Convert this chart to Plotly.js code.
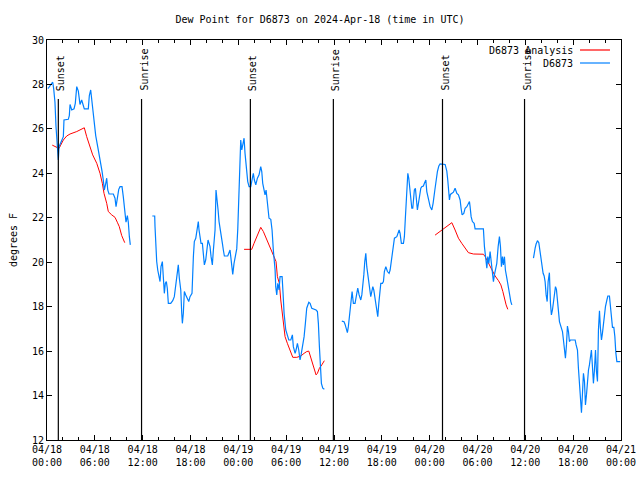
<!DOCTYPE html>
<html><head><meta charset="utf-8">
<script src="https://cdn.plot.ly/plotly-3.0.1.min.js"></script>
<style>html,body{margin:0;padding:0;background:#fff}#chart{width:640px;height:480px}</style>
</head><body><div id="chart"></div>
<script>
const startTime = Date.UTC(2024, 3, 18, 0, 0, 0);
const endTime = Date.UTC(2024, 3, 21, 0, 0, 0);

// hours since 2024-04-18 00:00 UTC (null = data gap)
const blueHours = [
 0.09,0.16,0.59,0.72,0.84,1.00,1.13,1.29,1.42,1.51,1.84,2.05,2.13,2.67,2.80,2.89,3.10,3.39,3.55,3.73,3.93,4.14,4.35,4.55,4.68,5.18,5.31,5.48,5.61,5.81,6.11,6.36,6.56,6.78,6.90,7.06,7.19,7.37,7.49,7.62,7.78,8.32,8.53,8.66,8.82,9.00,9.16,9.41,9.57,9.79,9.91,10.08,10.20,10.33,10.45,
 null,
 13.21,13.51,13.55,13.64,13.76,13.89,14.02,14.09,14.18,14.30,14.47,14.59,14.72,14.84,14.97,15.09,15.22,15.52,15.77,15.97,16.15,16.27,16.47,16.60,16.78,16.90,16.98,17.10,17.23,17.40,17.60,17.78,17.94,18.19,18.36,18.48,18.66,18.86,18.98,19.07,19.20,19.32,19.49,19.61,19.74,19.91,20.04,20.20,20.33,20.45,20.58,20.74,20.87,21.08,21.20,21.33,21.46,21.58,21.71,21.83,22.00,22.12,22.25,22.67,22.84,22.96,23.05,23.17,23.30,23.46,23.68,23.80,23.93,24.05,24.18,24.30,24.43,24.55,24.72,24.84,25.01,25.18,25.35,25.56,25.76,25.88,26.01,26.19,26.39,26.60,26.81,26.94,27.06,27.23,27.35,27.48,27.57,27.69,27.85,28.07,28.23,28.39,28.52,28.61,28.69,28.82,28.95,29.11,29.23,29.49,29.61,29.74,29.95,30.15,30.33,30.58,30.78,30.90,31.12,31.24,31.41,31.58,31.74,31.87,32.08,32.25,32.41,32.58,32.84,33.00,33.21,33.50,33.75,33.92,34.04,34.17,34.29,34.42,34.59,34.79,
 null,
 36.98,37.26,37.39,37.52,37.68,37.80,37.93,38.02,38.14,38.27,38.43,38.64,38.86,38.98,39.15,39.36,39.49,39.61,39.74,39.86,39.99,40.11,40.24,40.36,40.49,40.61,40.74,40.87,40.99,41.12,41.24,41.37,41.49,41.62,41.74,41.87,42.07,42.20,42.32,42.50,42.70,42.91,43.04,43.20,43.33,43.45,43.58,43.88,44.04,44.17,44.29,44.45,44.71,44.83,44.96,45.13,45.26,45.38,45.51,45.63,45.76,45.88,45.96,46.08,46.21,46.34,46.46,46.59,46.71,46.89,47.01,47.21,47.34,47.52,47.64,47.84,48.06,48.27,48.43,48.65,48.81,48.97,49.15,49.31,49.94,50.15,50.27,50.40,50.48,50.60,50.78,50.98,51.19,51.41,51.61,51.82,51.94,52.07,52.28,52.45,52.66,52.86,52.99,53.07,53.20,53.36,53.58,53.70,54.74,54.87,55.04,55.17,55.29,55.42,55.58,55.71,55.87,56.00,56.12,56.25,56.42,56.59,56.75,56.88,57.00,57.13,57.25,57.38,57.50,57.68,57.84,58.00,58.18,58.31,
 null,
 61.02,61.10,61.23,61.35,61.52,61.69,61.86,61.98,62.11,62.23,62.36,62.48,62.61,62.74,62.86,63.02,63.15,63.27,63.40,63.53,63.65,63.78,63.90,64.03,64.15,64.28,64.40,64.53,64.66,64.78,64.91,65.03,65.16,65.28,65.41,65.53,65.66,66.25,66.37,66.54,66.66,66.79,66.91,67.04,67.17,67.29,67.42,67.54,67.67,67.79,67.92,68.04,68.17,68.29,68.42,68.54,68.67,68.80,68.92,69.05,69.17,69.30,69.42,69.55,69.67,69.80,69.92,70.05,70.23,70.35,70.55,70.68,70.80,70.93,71.10,71.23,71.35,71.48,71.90
];
const blueValues = [
 27.83,27.83,28.05,28.10,27.80,27.20,26.10,24.90,24.60,25.20,25.50,25.65,26.40,26.43,26.60,27.10,26.85,26.90,27.15,27.90,27.70,27.10,27.30,27.10,26.90,26.90,27.50,27.75,27.30,26.60,25.70,25.20,24.80,24.50,24.10,23.70,23.25,23.55,23.78,23.25,23.07,23.07,22.88,22.50,22.80,23.28,23.40,23.40,22.95,22.05,21.80,22.10,21.80,21.15,20.78,
 null,
 22.08,22.08,21.60,20.63,20.03,19.65,19.43,19.28,19.13,19.80,20.03,19.35,18.60,19.05,19.13,18.83,18.15,18.15,18.27,18.45,18.90,19.35,19.88,19.28,18.75,17.70,17.25,17.70,18.68,18.53,18.38,18.23,18.45,18.60,20.25,20.93,21.08,21.60,21.83,21.45,21.08,20.85,20.85,20.18,19.88,20.10,20.48,21.00,20.85,20.70,20.25,19.88,20.55,21.45,23.25,22.88,22.35,21.83,21.45,21.08,20.85,20.55,20.28,20.28,20.48,20.55,20.25,19.90,19.45,19.95,20.30,20.60,21.50,22.80,24.60,25.50,25.05,25.35,25.58,24.90,24.08,23.63,23.40,23.40,23.78,24.00,23.70,23.48,23.78,23.93,24.30,24.08,23.55,23.18,23.03,23.25,22.95,22.28,21.98,21.93,21.45,20.55,20.10,19.65,18.90,18.53,19.05,18.75,19.35,19.35,18.60,17.70,16.95,16.73,16.50,16.50,16.73,16.20,15.90,16.05,16.35,16.05,15.60,15.83,16.20,16.65,17.25,17.93,18.20,18.15,17.93,17.90,17.85,17.78,17.25,16.20,15.15,14.55,14.33,14.28,
 null,
 17.35,17.32,17.20,17.03,16.83,17.10,17.55,18.08,18.53,18.68,18.15,18.15,18.60,18.83,18.53,18.30,18.53,18.90,19.43,20.03,20.40,19.80,19.43,19.05,18.83,18.45,18.68,18.90,18.75,18.38,18.23,17.93,17.55,18.15,18.68,19.05,19.05,19.13,19.58,19.80,19.58,19.50,19.65,20.10,20.55,20.93,21.08,21.15,21.38,21.45,21.30,20.85,20.85,21.15,22.05,23.10,24.00,23.78,23.40,22.80,22.43,22.43,22.95,23.25,23.33,22.80,22.35,22.65,22.95,23.33,23.40,23.43,23.55,23.70,23.18,22.88,22.50,22.35,22.65,23.25,23.70,24.08,24.33,24.42,24.40,24.10,23.70,23.10,22.80,23.05,23.10,23.15,23.33,23.10,23.03,22.80,22.43,22.13,22.20,22.43,22.50,22.65,22.73,22.50,22.05,21.83,21.75,21.50,21.50,20.70,20.10,19.73,20.25,19.95,20.48,20.10,19.65,19.13,19.43,19.65,19.95,20.70,21.15,20.70,19.80,20.25,19.88,20.25,19.65,19.28,18.90,18.45,18.23,18.08,
 null,
 20.18,20.40,20.63,20.82,20.97,20.88,20.48,20.03,19.73,19.50,19.38,19.13,18.53,18.23,19.13,19.53,18.15,17.63,17.85,18.23,18.68,18.90,18.78,18.30,17.70,17.33,17.18,17.03,16.88,16.50,16.05,15.68,16.28,17.13,16.88,16.43,16.50,16.50,16.28,16.05,15.23,14.40,13.65,13.23,14.10,15.00,14.63,13.58,14.03,14.78,15.15,15.38,15.75,16.05,15.30,14.55,15.15,16.05,15.08,14.63,16.95,17.82,17.03,16.50,16.80,17.25,17.55,18.00,18.30,18.48,18.48,18.00,17.48,17.07,17.07,16.65,15.93,15.53,15.53
];

const redHours = [
 0.66,1.22,1.51,1.72,2.05,2.47,2.89,3.73,4.35,4.68,4.98,5.40,5.73,6.24,6.65,6.94,7.15,7.49,7.69,8.12,8.53,8.82,9.07,9.37,9.75,
 null,
 24.72,25.68,25.97,26.31,26.81,27.14,27.57,27.98,28.39,28.73,28.90,29.15,29.32,29.49,29.65,29.86,30.15,30.49,30.83,31.33,31.83,32.25,32.58,32.84,33.09,33.34,33.50,33.75,33.92,34.17,34.47,34.79,
 null,
 48.68,49.31,50.15,50.78,51.19,51.61,52.03,52.45,52.86,53.49,54.11,54.74,54.96,55.37,55.80,56.21,56.63,56.93,57.18,57.34,57.59,57.80
];
const redValues = [
 25.27,25.17,25.12,25.27,25.50,25.68,25.77,25.88,25.98,26.05,25.65,25.20,24.83,24.45,24.00,23.55,23.10,22.65,22.28,22.13,22.02,21.80,21.60,21.20,20.88,
 null,
 20.58,20.58,20.85,21.15,21.57,21.38,21.00,20.70,20.33,20.03,19.35,19.05,18.30,17.70,17.25,16.65,16.35,16.05,15.72,15.72,15.78,15.90,15.98,16.00,15.68,15.38,15.15,14.93,15.00,15.23,15.38,15.57,
 null,
 21.22,21.40,21.60,21.78,21.45,21.08,20.85,20.63,20.43,20.37,20.36,20.36,20.25,19.95,19.65,19.38,19.17,18.98,18.68,18.38,18.08,17.88
];

const sunsetHours = [1.42, 25.51, 49.61];
const sunriseHours = [11.86, 35.92, 59.90];
const seriesNames = ['D6873 Analysis', 'D6873'];
const seriesColors = ['#ff0000', '#0080ff'];

const toTime = h => (h === null ? null : startTime + h * 3600000);
const FONT = 'DejaVu Sans Mono, monospace';

const traces = [
  {x: redHours.map(toTime), y: redValues, type: 'scatter', mode: 'lines',
   name: seriesNames[0], line: {color: seriesColors[0], width: 1}, connectgaps: false},
  {x: blueHours.map(toTime), y: blueValues, type: 'scatter', mode: 'lines',
   name: seriesNames[1], line: {color: seriesColors[1], width: 1.2}, connectgaps: false}
];

const shapes = [];
const annotations = [];
const events = [];
sunsetHours.forEach(h => events.push({h: h, label: 'Sunset'}));
sunriseHours.forEach(h => events.push({h: h, label: 'Sunrise'}));
events.forEach(ev => {
  shapes.push({type: 'line', xref: 'x', yref: 'paper', x0: toTime(ev.h), x1: toTime(ev.h),
    y0: 0, y1: 0.8525, line: {color: '#000', width: 1.2}});
  annotations.push({xref: 'x', yref: 'paper', x: toTime(ev.h), y: 0.87, xshift: 2,
    text: ev.label, textangle: -90, showarrow: false, xanchor: 'center', yanchor: 'bottom',
    borderpad: 0, font: {family: FONT, size: 10, color: '#000'}});
});

// gnuplot-style legend: text on left, sample line on right
const legendY = [0.975, 0.9425];
seriesNames.forEach((name, i) => {
  annotations.push({xref: 'paper', yref: 'paper', x: 0.9175, y: legendY[i], text: name,
    showarrow: false, xanchor: 'right', yanchor: 'middle', borderpad: 0,
    font: {family: FONT, size: 10, color: '#000'}});
  shapes.push({type: 'line', xref: 'paper', yref: 'paper', x0: 0.9286, x1: 0.9808,
    y0: legendY[i], y1: legendY[i], line: {color: seriesColors[i], width: 1.2}});
});

const layout = {
  width: 640, height: 480,
  margin: {l: 47, r: 19, t: 40, b: 40},
  paper_bgcolor: '#fff', plot_bgcolor: '#fff',
  showlegend: false,
  font: {family: FONT, size: 10, color: '#000'},
  title: {text: 'Dew Point for D6873 on 2024-Apr-18 (time in UTC)', x: 0.5, xanchor: 'center',
    y: 0.96, yanchor: 'middle', font: {family: FONT, size: 10, color: '#000'}},
  xaxis: {
    type: 'date', range: [startTime, endTime], tick0: startTime, dtick: 6 * 3600000,
    tickformat: '%m/%d<br>%H:%M', ticks: 'inside', ticklen: 5, tickcolor: '#000',
    showline: true, linecolor: '#000', linewidth: 1, mirror: 'allticks',
    showgrid: false, zeroline: false, fixedrange: true,
    minor: {dtick: 2 * 3600000, ticks: 'inside', ticklen: 3, tickcolor: '#000', showgrid: false},
    tickfont: {family: FONT, size: 10, color: '#000'}
  },
  yaxis: {
    range: [12, 30], dtick: 2, tick0: 12, ticks: 'inside', ticklen: 5, tickcolor: '#000',
    showline: true, linecolor: '#000', linewidth: 1, mirror: 'allticks',
    showgrid: false, zeroline: false,
    title: {text: 'degrees F', font: {family: FONT, size: 10, color: '#000'}, standoff: 12},
    tickfont: {family: FONT, size: 10, color: '#000'}
  },
  shapes: shapes,
  annotations: annotations
};

Plotly.newPlot('chart', traces, layout, {staticPlot: true, displayModeBar: false});
</script>
</body></html>
